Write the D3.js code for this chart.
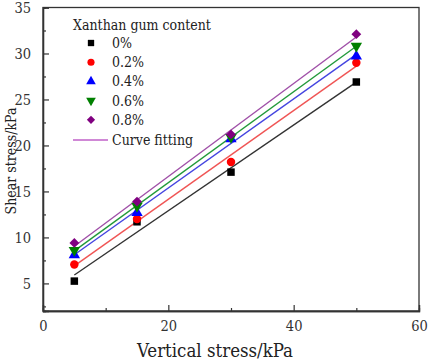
<!DOCTYPE html>
<html>
<head>
<meta charset="utf-8">
<script src="https://cdn.jsdelivr.net/npm/d3@7"></script>
<style>
  body { margin: 0; background: #fff; }
</style>
</head>
<body>
<div id="chart"></div>
<script>
// data
var stress = [5, 15, 30, 50];
var contents = ["0%", "0.2%", "0.4%", "0.6%", "0.8%"];
var shear0 = [5.25, 11.7, 17.1, 26.9];
var shear02 = [7.05, 12.0, 18.2, 29.0];
var shear04 = [8.1, 12.7, 20.7, 29.7];
var shear06 = [8.6, 13.4, 20.9, 30.8];
var shear08 = [9.4, 13.9, 21.2, 32.1];
var xTicks = [0, 20, 40, 60];
var yTicks = [5, 10, 15, 20, 25, 30, 35];

var markerColors = ["#000000", "#ff0000", "#0000ff", "#008000", "#800080"];
var lineColors = ["#333333", "#f05555", "#4545e0", "#229a3a", "#a050a8"];
var symbols = [d3.symbolSquare, d3.symbolCircle, d3.symbolTriangle, d3.symbolTriangle, d3.symbolSquare];
var rotations = [0, 0, 0, 180, 45];

var serif = "'DejaVu Serif Condensed', 'DejaVu Serif', serif";

function init() {
    var w = 429, h = 360;
    var left = 43, right = 419, top = 7.5, bottom = 311;

    var series = [shear0, shear02, shear04, shear06, shear08].map(function(vals, i) {
        return {
            name: contents[i],
            points: stress.map(function(s, j) { return {x: s, y: vals[j]}; })
        };
    });

    var xScale = d3.scaleLinear().domain([0, 60]).range([left, right]);
    var yScale = d3.scaleLinear().domain([2, 35]).range([bottom, top]);

    var svg = d3.select("#chart").append("svg")
        .attr("width", w).attr("height", h)
        .attr("font-family", serif);

    // frame
    svg.append("rect")
        .attr("x", left).attr("y", top)
        .attr("width", right - left).attr("height", bottom - top)
        .attr("fill", "none").attr("stroke", "#333").attr("stroke-width", 1.3);

    // axes with inward ticks
    var xAxis = d3.axisBottom(xScale).tickValues(xTicks).tickSize(-6).tickPadding(10);
    var xMinor = d3.axisBottom(xScale).tickValues([10, 30, 50]).tickSize(-3).tickFormat("");
    var yAxis = d3.axisLeft(yScale).tickValues(yTicks).tickSize(-6).tickPadding(12);
    var yMinor = d3.axisLeft(yScale).tickValues([2.5, 7.5, 12.5, 17.5, 22.5, 27.5, 32.5]).tickSize(-3).tickFormat("");

    [xAxis, xMinor].forEach(function(ax) {
        var g = svg.append("g").attr("transform", "translate(0," + bottom + ")").call(ax);
        g.attr("font-family", serif);
        g.select(".domain").attr("stroke", "#333").attr("stroke-width", 1.3);
        g.selectAll("line").attr("stroke", "#333").attr("stroke-width", 1.2);
        g.selectAll("text").attr("font-family", serif).style("font-size", "14.5px").attr("fill", "#333");
    });
    [yAxis, yMinor].forEach(function(ax) {
        var g = svg.append("g").attr("transform", "translate(" + left + ",0)").call(ax);
        g.attr("font-family", serif);
        g.select(".domain").attr("stroke", "#333").attr("stroke-width", 1.3);
        g.selectAll("line").attr("stroke", "#333").attr("stroke-width", 1.2);
        g.selectAll("text").attr("font-family", serif).style("font-size", "14.5px").attr("fill", "#333");
    });

    // axis titles
    svg.append("text")
        .attr("x", 215).attr("y", 357)
        .attr("text-anchor", "middle").style("font-size", "18.5px")
        .attr("font-family", serif).attr("fill", "#222")
        .text("Vertical stress/kPa");
    svg.append("text")
        .attr("transform", "translate(16,161) rotate(-90)")
        .attr("text-anchor", "middle").style("font-size", "14px")
        .attr("font-family", serif).attr("fill", "#222")
        .text("Shear stress/kPa");

    // fitted lines (least squares on each series)
    var line = d3.line()
        .x(function(d) { return xScale(d.x); })
        .y(function(d) { return yScale(d.y); });

    series.forEach(function(s, i) {
        var mx = d3.mean(s.points, function(d) { return d.x; });
        var my = d3.mean(s.points, function(d) { return d.y; });
        var sxy = d3.sum(s.points, function(d) { return (d.x - mx) * (d.y - my); });
        var sxx = d3.sum(s.points, function(d) { return (d.x - mx) * (d.x - mx); });
        var k = sxy / sxx, b = my - k * mx;
        var ends = d3.extent(stress).map(function(x) { return {x: x, y: k * x + b}; });
        svg.append("path")
            .datum(ends)
            .attr("d", line)
            .attr("fill", "none")
            .attr("stroke", lineColors[i])
            .attr("stroke-width", 1.4);
    });

    // markers
    series.forEach(function(s, i) {
        svg.selectAll(".m" + i)
            .data(s.points)
            .enter().append("path")
            .attr("class", "m" + i)
            .attr("d", d3.symbol().type(symbols[i]).size(i === 4 ? 48 : 56))
            .attr("transform", function(d) {
                return "translate(" + xScale(d.x) + "," + yScale(d.y) + ") rotate(" + rotations[i] + ")";
            })
            .attr("fill", markerColors[i]);
    });

    // legend
    var legend = svg.append("g").attr("font-family", serif).attr("fill", "#222");
    legend.append("text")
        .attr("x", 73).attr("y", 30)
        .style("font-size", "14px")
        .text("Xanthan gum content");
    contents.forEach(function(c, i) {
        var y = 43 + i * 19.2;
        legend.append("path")
            .attr("d", d3.symbol().type(symbols[i]).size(i === 4 ? 34 : 40))
            .attr("transform", "translate(91," + y + ") rotate(" + rotations[i] + ")")
            .attr("fill", markerColors[i]);
        legend.append("text")
            .attr("x", 112).attr("y", y + 5)
            .style("font-size", "14px")
            .text(c);
    });
    legend.append("line")
        .attr("x1", 73).attr("x2", 108)
        .attr("y1", 140).attr("y2", 140)
        .attr("stroke", "#c060c8").attr("stroke-width", 1.4);
    legend.append("text")
        .attr("x", 112).attr("y", 145)
        .style("font-size", "14px")
        .text("Curve fitting");
}

window.onload = init;
</script>
</body>
</html>
